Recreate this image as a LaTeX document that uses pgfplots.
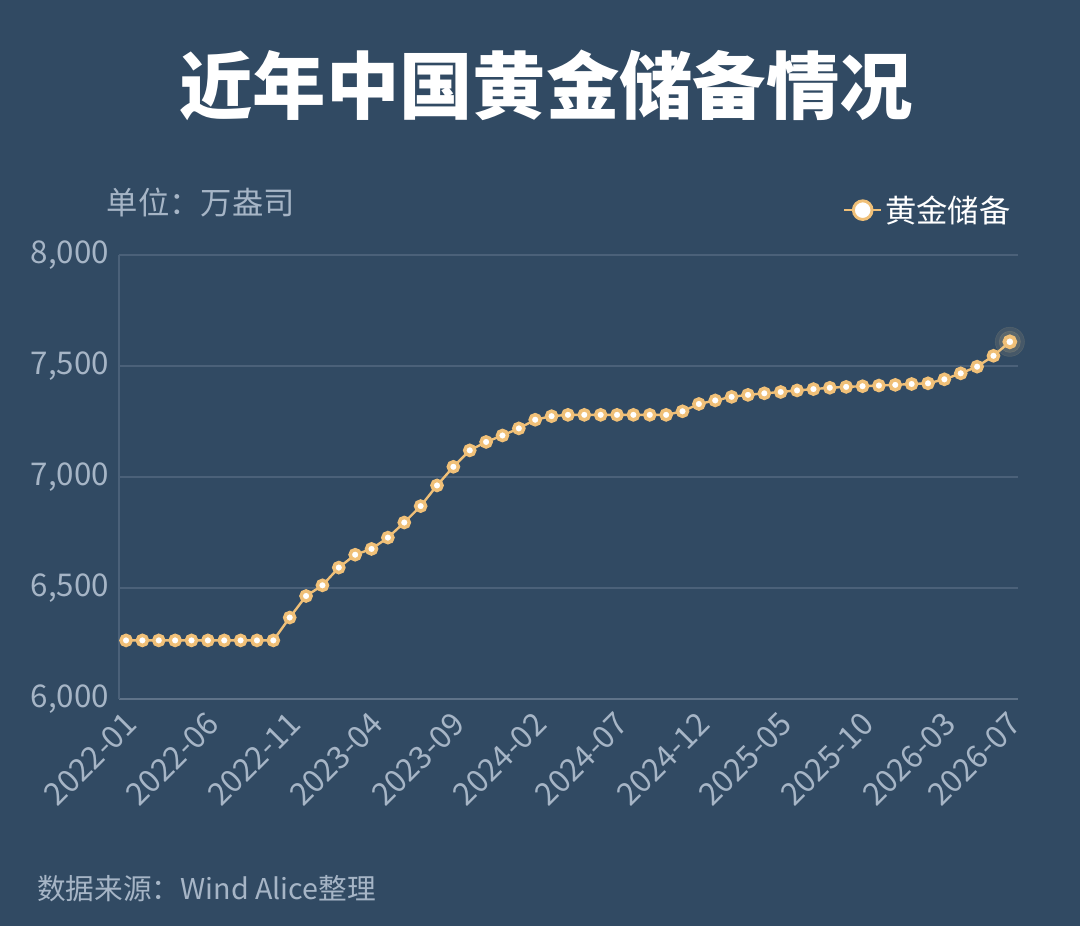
\documentclass[border=0pt]{standalone}
\usepackage{pgfplots}
\pgfplotsset{compat=1.18}
\usepackage{fontspec}
\setmainfont{Noto Sans CJK SC}
\definecolor{bg}{RGB}{49,74,99}
\definecolor{gold}{RGB}{240,192,120}
\definecolor{glow}{RGB}{255,220,150}
\definecolor{gridc}{RGB}{75,97,121}
\definecolor{axisc}{RGB}{95,115,137}
\definecolor{lbl}{RGB}{166,181,198}
\begin{document}
\begin{tikzpicture}
\fill[bg] (0pt,0pt) rectangle (810pt,694.5pt);
\node[text=white,font=\fontsize{55pt}{60pt}\selectfont\bfseries] at (409.5pt,630.75pt) {近年中国黄金储备情况};
\node[text=lbl,anchor=west,font=\fontsize{23.5pt}{26pt}\selectfont,inner sep=0pt] at (80pt,542.25pt) {单位：万盎司};
\node[text=lbl,anchor=west,font=\fontsize{21.5pt}{24pt}\selectfont,inner sep=0pt] at (27.75pt,28pt) {数据来源：Wind Alice整理};
\begin{axis}[
  at={(89.25pt,170.25pt)}, anchor=south west,
  scale only axis, width=674.25pt, height=333pt,
  xmin=-0.43, xmax=54.5, ymin=6000, ymax=8000,
  xtick={0,5,10,15,20,25,30,35,40,45,50,54},
  xticklabels={2022-01,2022-06,2022-11,2023-04,2023-09,2024-02,2024-07,2024-12,2025-05,2025-10,2026-03,2026-07},
  ytick={6000,6500,7000,7500,8000},
  ymajorgrids, grid style={gridc, line width=1pt},
  axis x line*=bottom, axis y line*=left,
  x axis line style={axisc,line width=1pt,-},
  y axis line style={gridc,line width=1pt,-},
  major tick length=0pt,
  tick label style={text=lbl,font=\fontsize{23.5pt}{26pt}\selectfont},
  xticklabel style={rotate=45,anchor=north east,xshift=-4pt,yshift=-1pt},
  yticklabel style={xshift=-4pt},
  /pgf/number format/.cd, assume math mode=true, fixed, 1000 sep={,},
  /pgfplots/.cd,
  legend style={at={(rel axis cs:0.995,1.101)},anchor=east,draw=none,fill=none,text=white,font=\fontsize{23.5pt}{26pt}\selectfont,inner sep=0pt},
  legend image code/.code={\draw[gold,line width=1.8pt] (-4pt,0pt) -- (24pt,0pt);
    \draw[gold,line width=2.2pt,fill=white] (10pt,0pt) circle (7pt);},
  clip=false,
]
\addplot[gold, line width=1.8pt, mark=*, mark size=3.8pt,
  mark options={draw=gold,fill=white,line width=2.6pt}] coordinates {
(0,6264)(1,6264)(2,6264)(3,6264)(4,6264)(5,6264)(6,6264)(7,6264)(8,6264)(9,6264)
(10,6367)(11,6464)(12,6512)(13,6592)(14,6650)(15,6676)(16,6727)(17,6795)(18,6869)(19,6962)
(20,7046)(21,7120)(22,7158)(23,7187)(24,7219)(25,7258)(26,7274)(27,7280)(28,7280)(29,7280)
(30,7280)(31,7280)(32,7280)(33,7280)(34,7296)(35,7329)(36,7345)(37,7361)(38,7370)(39,7377)
(40,7383)(41,7390)(42,7396)(43,7402)(44,7406)(45,7409)(46,7412)(47,7415)(48,7419)(49,7422)
(50,7440)(51,7467)(52,7497)(53,7546)(54,7609)
};
\addlegendentry{黄金储备}
\addplot[forget plot, only marks, color=glow, opacity=0.10, mark=*, mark size=11pt, mark options={draw=none,fill=glow}] coordinates {(54,7609)};
\addplot[forget plot, only marks, color=glow, opacity=0.12, mark=*, mark size=8pt, mark options={draw=none,fill=glow}] coordinates {(54,7609)};
\addplot[forget plot, only marks, color=gold, mark=*, mark size=4.1pt, mark options={draw=gold,fill=white,line width=2.8pt}] coordinates {(54,7609)};
\end{axis}
\end{tikzpicture}
\end{document}
